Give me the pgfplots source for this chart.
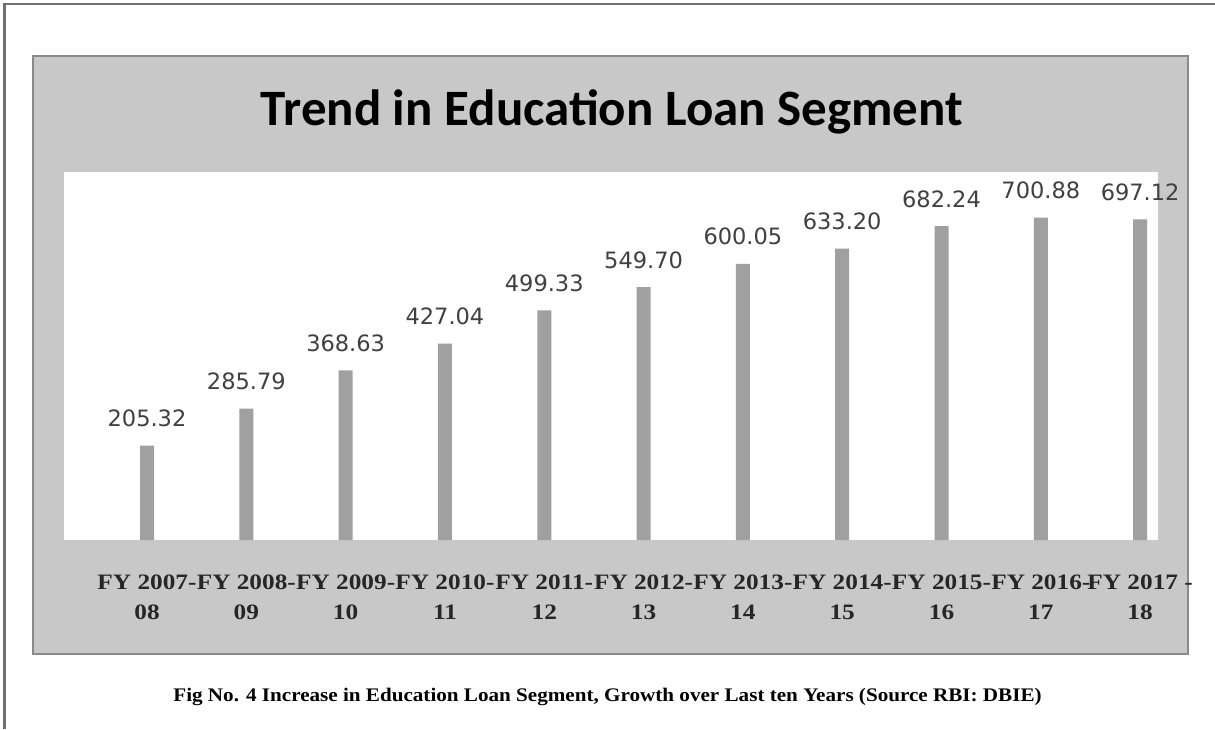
\documentclass[border=0pt]{standalone}
\usepackage{pgfplots}
\pgfplotsset{compat=1.18}
\usepackage{fontspec}
\setmainfont{Liberation Serif}
\newfontfamily\titlefont{Carlito}
\newfontfamily\valfont{DejaVu Sans}
\newfontfamily\tickfont[FakeStretch=1.15]{Liberation Serif}
\newfontfamily\capfont[FakeStretch=1.1]{Liberation Serif}
\definecolor{boxgray}{HTML}{C8C8C8}
\definecolor{boxedge}{HTML}{8A8A8A}
\definecolor{bargray}{HTML}{A0A0A0}
\definecolor{outeredge}{HTML}{707070}
\definecolor{valcol}{HTML}{404040}
\begin{document}
\begin{tikzpicture}
\useasboundingbox (0pt,0pt) rectangle (607.5pt,364.5pt);
% outer frame (top and left)
\draw[outeredge,line width=1.2pt] (607.5pt,362.5pt) -- (2.25pt,362.5pt) -- (2.25pt,0pt);
% gray chart box
\draw[boxedge,fill=boxgray,line width=1pt] (16.5pt,37.5pt) rectangle (594pt,336.5pt);
\node[font=\titlefont\bfseries\fontsize{25.5}{30}\selectfont] at (306pt,308.5pt) {Trend in Education Loan Segment};
\begin{axis}[
  at={(32pt,94.5pt)}, anchor=south west,
  scale only axis, width=547pt, height=184pt,
  axis background/.style={fill=white},
  axis line style={draw=none},
  major tick length=0pt,
  ymin=0, ymax=800,
  xmin=-0.836, xmax=10.18,
  ytick=\empty,
  xtick={0,1,2,3,4,5,6,7,8,9,10},
  xticklabels={{FY 2007-\\08},{FY 2008-\\09},{FY 2009-\\10},{FY 2010-\\11},{FY 2011-\\12},{FY 2012-\\13},{FY 2013-\\14},{FY 2014-\\15},{FY 2015-\\16},{FY 2016-\\17},{FY 2017 -\\18}},
  xticklabel style={font=\tickfont\bfseries\fontsize{11}{15}\selectfont, align=center, anchor=north, yshift=-14pt, text=black!85},
  clip=false,
  ybar, bar width=7pt,
  point meta=y,
  /pgf/number format/assume math mode=true,
  nodes near coords={\pgfmathprintnumber[fixed,fixed zerofill,precision=2,assume math mode=true]{\pgfplotspointmeta}},
  nodes near coords style={font=\valfont\fontsize{11.25}{13}\selectfont, text=valcol, anchor=base, yshift=9.5pt},
]
\addplot[fill=bargray, draw=none] coordinates {
(0,205.32) (1,285.79) (2,368.63) (3,427.04) (4,499.33) (5,549.70)
(6,600.05) (7,633.20) (8,682.24) (9,700.88) (10,697.12)};
\end{axis}
\node[font=\capfont\bfseries\fontsize{9.6}{12}\selectfont] at (303.75pt,16pt) {Fig No. 4 Increase in Education Loan Segment, Growth over Last ten Years (Source RBI: DBIE)};
\end{tikzpicture}
\end{document}
